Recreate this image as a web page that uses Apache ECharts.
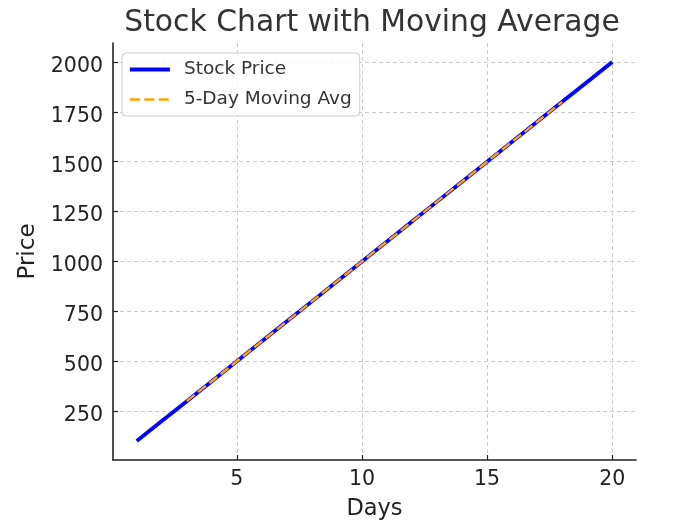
<!DOCTYPE html>
<html>
<head>
<meta charset="utf-8">
<script src="https://cdn.jsdelivr.net/npm/echarts@6/dist/echarts.min.js"></script>
<style>
html,body{margin:0;padding:0;background:#fff;}
#chart{width:676px;height:522px;}
</style>
</head>
<body>
<div id="chart"></div>
<script>
const days = [1,2,3,4,5,6,7,8,9,10,11,12,13,14,15,16,17,18,19,20];
const stockPrice = [100,200,300,400,500,600,700,800,900,1000,1100,1200,1300,1400,1500,1600,1700,1800,1900,2000];
const movingAvg = [null,null,300,400,500,600,700,800,900,1000,1100,1200,1300,1400,1500,1600,1700,1800,null,null];
const xTicks = [5,10,15,20];
const yTicks = [250,500,750,1000,1250,1500,1750,2000];

const FONT = 'DejaVu Sans';
const chart = echarts.init(document.getElementById('chart'), null, {renderer:'canvas'});
const priceData = days.map((d,i)=>[d, stockPrice[i]]);
const maData = days.map((d,i)=>[d, movingAvg[i]]).filter(p=>p[1]!==null);

chart.setOption({
  animation:false,
  backgroundColor:'#ffffff',
  title:{
    text:'Stock Chart with Moving Average',
    left:367, top:3, textAlign:'center',
    textStyle:{fontFamily:FONT, fontSize:29.8, fontWeight:'normal', color:'#333333'}
  },
  legend:{
    left:122, top:53, orient:'vertical',
    padding:[7,8,7,6],
    itemWidth:40, itemHeight:14, itemGap:11,
    backgroundColor:'rgba(255,255,255,0.8)',
    borderColor:'#cccccc', borderWidth:1, borderRadius:4,
    itemStyle:{opacity:0},
    textStyle:{fontFamily:FONT, fontSize:18.5, color:'#333333', lineHeight:18, padding:[0,0,0,9]},
    data:[
      {name:'Stock Price', lineStyle:{width:3.8, color:'#0000ff'}},
      {name:'5-Day Moving Avg', lineStyle:{width:2.6, color:'#ffa500', type:[10,4.4]}}
    ]
  },
  grid:{left:113, right:40, top:43, bottom:62, containLabel:false, outerBoundsMode:'none'},
  xAxis:{
    type:'value', min:0.05, max:20.95,
    name:'Days', nameLocation:'middle', nameGap:38,
    nameTextStyle:{fontFamily:FONT, fontSize:22.5, color:'#222222'},
    axisLine:{show:true, onZero:false, lineStyle:{color:'#222222', width:1.6}},
    axisTick:{show:true, inside:true, length:5, customValues:xTicks, lineStyle:{color:'#222222', width:1.2}},
    axisLabel:{customValues:xTicks, margin:9, fontFamily:FONT, fontSize:20.5, color:'#222222', formatter:v=>String(v)},
    splitLine:{show:true, lineStyle:{color:'#cccccc', width:1, type:[4,3]}}
  },
  yAxis:{
    type:'value', min:5, max:2095,
    name:'Price', nameLocation:'middle', nameGap:71, nameRotate:90,
    nameTextStyle:{fontFamily:FONT, fontSize:23, color:'#222222'},
    axisLine:{show:true, onZero:false, lineStyle:{color:'#222222', width:1.6}},
    axisTick:{show:true, inside:true, length:5, customValues:yTicks, lineStyle:{color:'#222222', width:1.2}},
    axisLabel:{
      customValues:yTicks, margin:10, fontFamily:FONT, fontSize:20.5, color:'#222222',
      formatter:v=>'{v|'+v+'}',
      rich:{v:{fontFamily:FONT, fontSize:20.5, color:'#222222', padding:[9,0,0,0]}}
    },
    splitLine:{show:true, lineStyle:{color:'#cccccc', width:1, type:[4,3]}}
  },
  series:[
    {
      name:'Stock Price', type:'line', data:priceData,
      symbol:'none', showSymbol:false,
      lineStyle:{color:'#0000ff', width:3.8},
      itemStyle:{color:'#0000ff'},
      z:2
    },
    {
      name:'5-Day Moving Avg', type:'line', data:maData,
      symbol:'none', showSymbol:false,
      lineStyle:{color:'#ffa500', width:2.4, type:[10,4.4]},
      itemStyle:{color:'#ffa500'},
      z:3
    }
  ]
});
</script>
</body>
</html>
